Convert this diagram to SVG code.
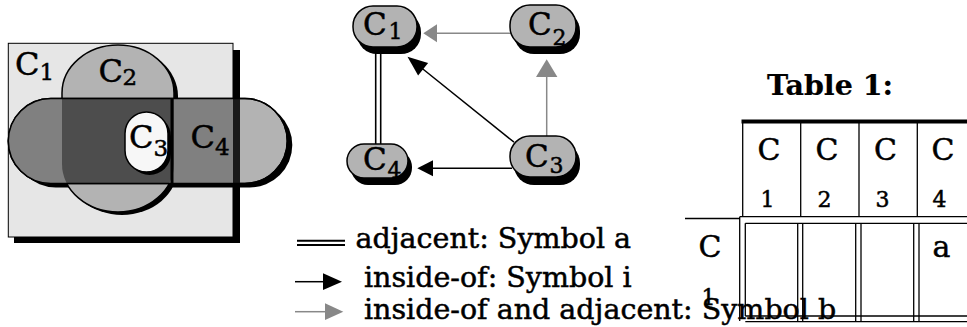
<svg xmlns="http://www.w3.org/2000/svg" width="967" height="327" viewBox="0 0 967 327">
  <style>
    text { font-family: "DejaVu Serif", "Liberation Serif", serif; fill: #000; stroke: #000; stroke-width: 0.5; }
    .lbl { font-size: 32px; }
    .sub { font-size: 23px; }
    .nlbl { font-size: 31px; }
    .nsub { font-size: 22px; }
    .leg { font-size: 28.5px; }
    .hdr { font-size: 30px; }
    .hsub { font-size: 22px; }
    .title { font-size: 28.5px; font-weight: bold; stroke-width: 0.2; }
    .node { fill: #b3b3b3; stroke: #000; stroke-width: 1.5; }
    .shadow { fill: #000; }
    .black { stroke: #000; stroke-width: 1.5; fill: none; }
    .grey { stroke: #888; stroke-width: 1.5; fill: none; }
    .tbl { stroke: #000; stroke-width: 1.3; fill: none; }
  </style>
  <defs>
    <rect id="c1box" x="8.3" y="43.3" width="224.7" height="193.7"/>
    <rect id="c2shape" x="62" y="45" width="112" height="167" rx="56" ry="48"/>
    <rect id="c4shape" x="8.3" y="98.5" width="279" height="85" rx="42.5" ry="42.5"/>
    <clipPath id="clipC1"><use href="#c1box"/></clipPath>
    <clipPath id="clipC2"><use href="#c2shape"/></clipPath>
  </defs>

  <!-- region diagram: C1 box, C2 and C4 overlapping, C3 inside -->
  <g id="region-diagram">
    <rect class="shadow" x="14" y="50" width="226" height="193"/>
    <use href="#c1box" fill="#e6e6e6" stroke="#000" stroke-width="1"/>
    <use href="#c4shape" transform="translate(5,4)" class="shadow"/>
    <use href="#c2shape" transform="translate(4,3)" class="shadow"/>
    <use href="#c2shape" fill="#b3b3b3" stroke="#000" stroke-width="1.5"/>
    <use href="#c4shape" fill="#b3b3b3" stroke="#000" stroke-width="1.5"/>
    <g clip-path="url(#clipC1)"><use href="#c4shape" fill="#808080"/></g>
    <g clip-path="url(#clipC2)"><use href="#c4shape" fill="#4d4d4d"/></g>
    <rect x="233" y="99" width="7" height="84" fill="#1a1a1a"/>
    <line x1="172" y1="99" x2="172" y2="184" stroke="#000" stroke-width="3"/>
    <use href="#c4shape" fill="none" stroke="#000" stroke-width="1.5"/>
    <rect x="128" y="115" width="43" height="60" rx="21.5" class="shadow"/>
    <rect x="125" y="112" width="43" height="60" rx="21.5" fill="#f7f7f7" stroke="#000" stroke-width="1.5"/>
    <text class="lbl" x="15" y="75">C</text><text class="sub" x="39.5" y="80">1</text>
    <text class="lbl" x="98.5" y="81.7">C</text><text class="sub" x="122.5" y="85">2</text>
    <text class="lbl" x="129" y="148">C</text><text class="sub" x="153.5" y="156">3</text>
    <text class="lbl" x="190.5" y="148">C</text><text class="sub" x="215" y="155">4</text>
  </g>

  <!-- graph connectors -->
  <g id="connectors">
    <line x1="375.7" y1="50" x2="375.7" y2="146" stroke="#000" stroke-width="1.6"/>
    <line x1="380.7" y1="50" x2="380.7" y2="146" stroke="#000" stroke-width="1.6"/>
    <line class="grey" x1="512" y1="33.3" x2="436" y2="33.3"/>
    <polygon points="423.3,33.3 437,24.3 437,42.3" fill="#888"/>
    <line class="grey" x1="546.7" y1="137" x2="546.7" y2="76"/>
    <polygon points="546.7,59.3 536,77 557.4,77" fill="#888"/>
    <line class="black" x1="512" y1="168.3" x2="432" y2="168.3"/>
    <polygon points="417.3,168.3 433,160.3 433,176.3" fill="#000"/>
    <line class="black" x1="514" y1="142.2" x2="421" y2="67.5"/>
    <polygon points="407.5,56.7 418.1,75.4 428.1,63" fill="#000"/>
  </g>

  <!-- graph nodes -->
  <g id="node-c1">
    <rect x="357" y="12" width="64" height="42" rx="20" class="shadow"/>
    <rect x="353" y="6" width="64" height="41" rx="20" class="node"/>
    <text class="nlbl" x="363" y="35">C</text><text class="nsub" x="388.5" y="39">1</text>
  </g>
  <g id="node-c2">
    <rect x="514" y="11" width="66" height="43" rx="20" class="shadow"/>
    <rect x="510" y="5" width="66" height="42" rx="20" class="node"/>
    <text class="nlbl" x="528" y="35">C</text><text class="nsub" x="552.5" y="45">2</text>
  </g>
  <g id="node-c3">
    <rect x="514" y="143" width="66" height="42" rx="20" class="shadow"/>
    <rect x="510" y="136" width="66" height="41" rx="20" class="node"/>
    <text class="nlbl" x="525" y="166.7">C</text><text class="nsub" x="549.5" y="173">3</text>
  </g>
  <g id="node-c4">
    <rect x="351" y="150" width="61" height="35" rx="17" class="shadow"/>
    <rect x="347" y="144" width="61" height="34" rx="17" class="node"/>
    <text class="nlbl" x="363" y="170">C</text><text class="nsub" x="387.5" y="178">4</text>
  </g>

  <!-- legend -->
  <g id="legend">
    <line x1="297" y1="240.7" x2="345" y2="240.7" stroke="#000" stroke-width="2"/>
    <line x1="297" y1="245" x2="345" y2="245" stroke="#000" stroke-width="2"/>
    <text class="leg" x="355.5" y="248">adjacent: Symbol a</text>
    <line class="black" x1="295" y1="281.7" x2="325" y2="281.7"/>
    <polygon points="323,273.3 342,281.7 323,290" fill="#000"/>
    <text class="leg" x="364" y="287">inside-of: Symbol i</text>
    <line class="grey" x1="295" y1="311.7" x2="327" y2="311.7"/>
    <polygon points="325,303.3 343.3,311.7 325,320" fill="#888"/>
    <text class="leg" x="364" y="318.5">inside-of and adjacent: Symbol b</text>
  </g>

  <!-- table -->
  <g id="table">
    <text class="title" x="767" y="95">Table 1:</text>
    <line x1="741.5" y1="121.5" x2="967" y2="121.5" stroke="#000" stroke-width="4"/>
    <g class="tbl">
      <line x1="742.7" y1="121" x2="742.7" y2="217"/>
      <line x1="800.7" y1="121" x2="800.7" y2="217"/>
      <line x1="859" y1="121" x2="859" y2="217"/>
      <line x1="917.3" y1="121" x2="917.3" y2="217"/>
      <line x1="739.7" y1="216.7" x2="967" y2="216.7"/>
      <line x1="685" y1="218.5" x2="739.7" y2="218.5"/>
      <line x1="739.7" y1="216.7" x2="739.7" y2="321"/>
      <line x1="745.3" y1="223.3" x2="967" y2="223.3"/>
      <line x1="745.3" y1="223.3" x2="745.3" y2="316"/>
      <line x1="797.7" y1="223.3" x2="797.7" y2="321.7"/>
      <line x1="802.7" y1="223.3" x2="802.7" y2="321.7"/>
      <line x1="855.7" y1="223.3" x2="855.7" y2="321.7"/>
      <line x1="861" y1="223.3" x2="861" y2="321.7"/>
      <line x1="913.7" y1="223.3" x2="913.7" y2="321.7"/>
      <line x1="919" y1="223.3" x2="919" y2="321.7"/>
      <line x1="745.3" y1="316" x2="967" y2="316"/>
      <line x1="745.3" y1="321.7" x2="967" y2="321.7"/>
    </g>
    <text class="hdr" x="757.5" y="160">C</text><text class="hsub" x="760.5" y="206.7">1</text>
    <text class="hdr" x="815.5" y="160">C</text><text class="hsub" x="817.5" y="206.7">2</text>
    <text class="hdr" x="874" y="160">C</text><text class="hsub" x="875.5" y="206.7">3</text>
    <text class="hdr" x="931.5" y="160">C</text><text class="hsub" x="932.5" y="206.7">4</text>
    <text class="hdr" x="698.5" y="257">C</text><text class="hsub" x="701.5" y="305">1</text>
    <text class="hdr" x="932.5" y="257">a</text>
  </g>
</svg>
